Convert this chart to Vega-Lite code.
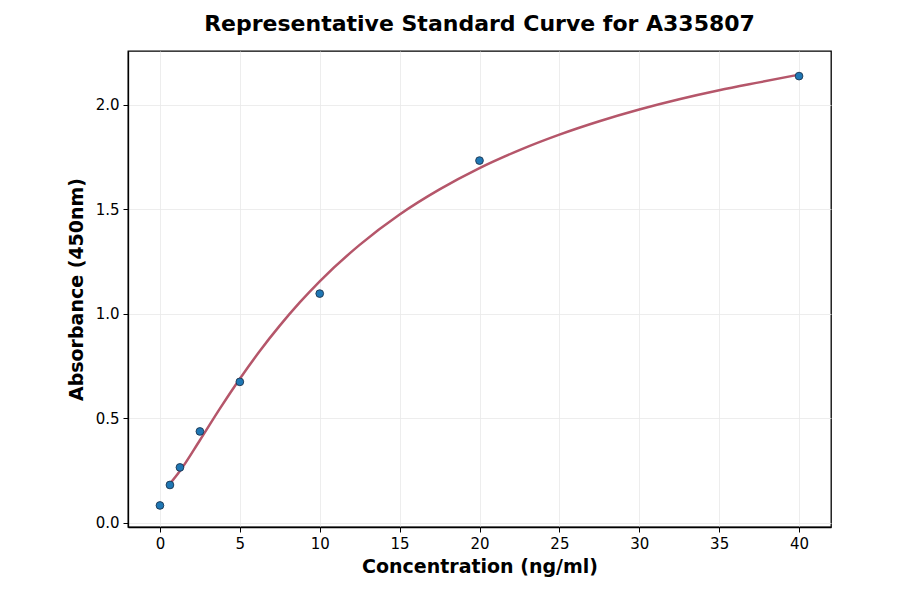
{
  "$schema": "https://vega.github.io/schema/vega-lite/v6.json",
  "autosize": {"type": "none"},
  "width": 703,
  "height": 476,
  "padding": {"left": 128, "top": 51, "right": 69, "bottom": 67},
  "background": "white",
  "title": {
    "text": "Representative Standard Curve for A335807",
    "font": "DejaVu Sans",
    "fontSize": 22,
    "fontWeight": "bold",
    "color": "black",
    "anchor": "middle",
    "offset": 15
  },
  "config": {
    "view": {"stroke": "black", "strokeWidth": 1.3},
    "axis": {
      "labelFont": "DejaVu Sans",
      "labelFontSize": 15,
      "labelColor": "black",
      "titleFont": "DejaVu Sans",
      "titleFontSize": 19,
      "titleFontWeight": "bold",
      "titleColor": "black",
      "domainColor": "black",
      "domainWidth": 1.3,
      "tickColor": "black",
      "tickSize": 5,
      "gridColor": "#e8e8e8",
      "gridWidth": 0.8
    }
  },
  "datasets": {
    "points": [
      {"conc": 0, "abs": 0.083},
      {"conc": 0.625, "abs": 0.181},
      {"conc": 1.25, "abs": 0.265},
      {"conc": 2.5, "abs": 0.437},
      {"conc": 5, "abs": 0.674},
      {"conc": 10, "abs": 1.096},
      {"conc": 20, "abs": 1.732},
      {"conc": 40, "abs": 2.136}
    ],
    "curve": [
      {"conc": 0.6, "abs": 0.185},
      {"conc": 1.25, "abs": 0.248},
      {"conc": 2.5, "abs": 0.395},
      {"conc": 3.75, "abs": 0.546},
      {"conc": 5, "abs": 0.689},
      {"conc": 6.25, "abs": 0.822},
      {"conc": 7.5, "abs": 0.943},
      {"conc": 8.75, "abs": 1.054},
      {"conc": 10, "abs": 1.155},
      {"conc": 12.5, "abs": 1.329},
      {"conc": 15, "abs": 1.474},
      {"conc": 17.5, "abs": 1.594},
      {"conc": 20, "abs": 1.696},
      {"conc": 22.5, "abs": 1.782},
      {"conc": 25, "abs": 1.856},
      {"conc": 27.5, "abs": 1.92},
      {"conc": 30, "abs": 1.976},
      {"conc": 32.5, "abs": 2.025},
      {"conc": 35, "abs": 2.068},
      {"conc": 37.5, "abs": 2.106},
      {"conc": 40, "abs": 2.143}
    ]
  },
  "layer": [
    {
      "data": {"name": "curve"},
      "mark": {"type": "line", "color": "#b5566a", "strokeWidth": 2.5, "interpolate": "monotone"},
      "encoding": {
        "x": {
          "field": "conc", "type": "quantitative",
          "scale": {"domain": [-2, 42], "nice": false, "zero": false},
          "axis": {"title": "Concentration (ng/ml)", "values": [0, 5, 10, 15, 20, 25, 30, 35, 40], "titlePadding": 6, "labelPadding": 4}
        },
        "y": {
          "field": "abs", "type": "quantitative",
          "scale": {"domain": [-0.02, 2.256], "nice": false, "zero": false},
          "axis": {"title": "Absorbance (450nm)", "values": [0, 0.5, 1, 1.5, 2], "format": ".1f", "titlePadding": 9, "labelPadding": 4}
        }
      }
    },
    {
      "data": {"name": "points"},
      "mark": {"type": "point", "filled": true, "fill": "#1f77b4", "stroke": "#1c3550", "strokeWidth": 0.9, "size": 60, "opacity": 1},
      "encoding": {
        "x": {"field": "conc", "type": "quantitative"},
        "y": {"field": "abs", "type": "quantitative"}
      }
    }
  ]
}
